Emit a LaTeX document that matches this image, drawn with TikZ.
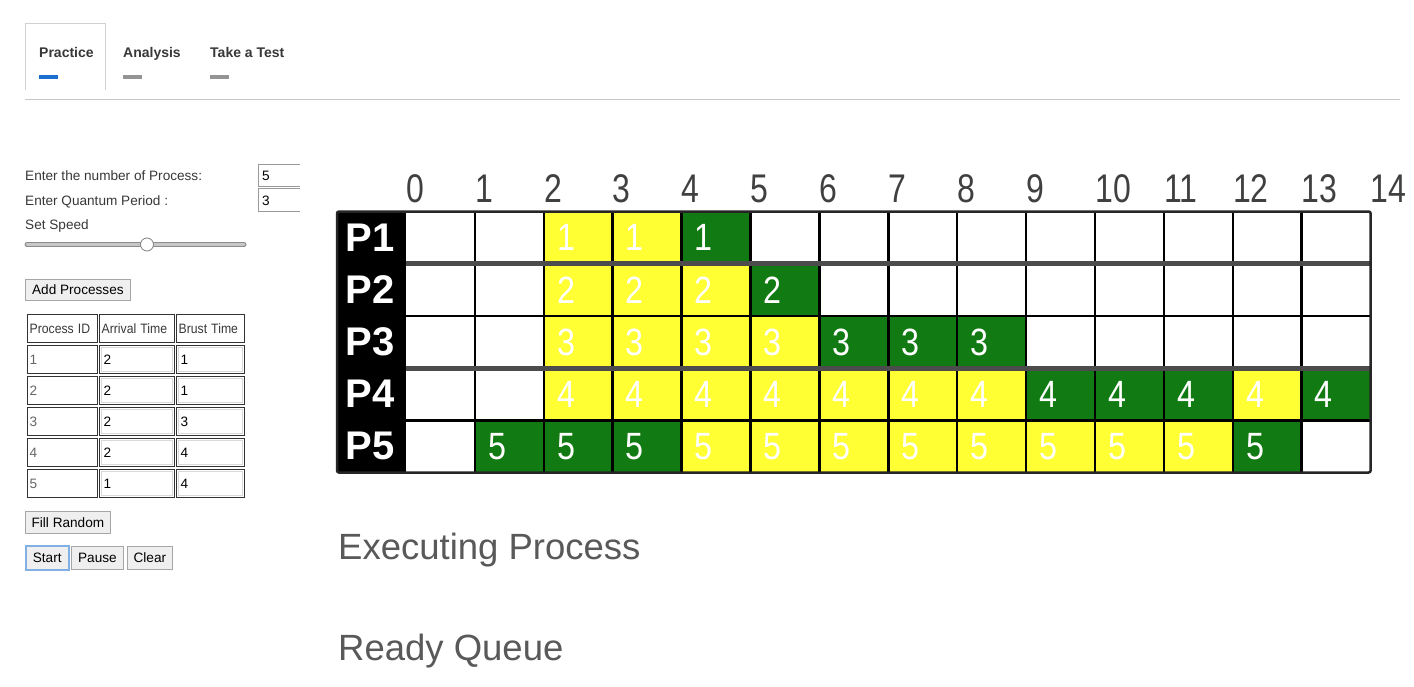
\documentclass[tikz,border=0pt]{standalone}
\usepackage{fontspec}
\usepackage{graphicx}
\setmainfont{Liberation Sans}
\definecolor{ctext}{HTML}{383838}
\definecolor{cbtn}{HTML}{EFEFEF}
\definecolor{cyellow}{HTML}{FFFF33}
\definecolor{cgreen}{HTML}{127A12}
\definecolor{cblue}{HTML}{1A6FD0}
\begin{document}
\begin{tikzpicture}[x=1pt,y=-1pt,
  lbl/.style={anchor=base west,inner sep=0,text=ctext,font=\fontsize{13.6}{15}\selectfont},
  tabtxt/.style={anchor=base west,inner sep=0,text=ctext,font=\fontsize{14}{16}\selectfont\bfseries},
  btnbox/.style={anchor=north west,draw=black!35,fill=cbtn,line width=.8pt,inner sep=0,text=black,font=\fontsize{13.6}{15}\selectfont},
  tcell/.style={anchor=north west,draw=black!80,line width=1.2pt,text width=#1,minimum height=28pt,inner xsep=2pt,inner ysep=0,align=left,text=black,font=\fontsize{13.6}{15}\selectfont},
  inbox/.style={draw=black!15,line width=1.5pt},
  slot/.style={anchor=north west,minimum height=52.2pt,inner xsep=13pt,inner ysep=0,text width=42.9pt,align=left,text=white,font=\fontsize{38}{40}\selectfont},
  ready/.style={slot,fill=cyellow},
  run/.style={slot,fill=cgreen},
  gline/.style={draw=black,line width=2.5pt},
  tick/.style={anchor=base west,inner sep=0,text=black!75,font=\fontsize{40}{42}\selectfont},
  plabel/.style={inner sep=0,text=white,font=\fontsize{40}{42}\selectfont\bfseries},
  big/.style={anchor=base west,inner sep=0,text=black!65,font=\fontsize{36.5}{40}\selectfont}]
\fill[white] (0,0) rectangle (1414,686);
\useasboundingbox (0,0) rectangle (1414,686);
\draw[black!18,line width=1pt] (25,90)--(25,23)--(105,23)--(105,90);
\draw[black!22,line width=1.2pt] (25,99.5)--(1400,99.5);
\node[tabtxt] (practice) at (39,57) {Practice};
\node[tabtxt] (analysis) at (123,57) {Analysis};
\node[tabtxt] (test) at (210,57) {Take a Test};
\fill[cblue] (39,75) rectangle (58,79);
\fill[black!42] (123,75) rectangle (142,79);
\fill[black!42] (210,75) rectangle (229,79);
\node[lbl] (nproc) at (25,180) {Enter the number of Process:};
\node[lbl] (quantum) at (25,205) {Enter Quantum Period :};
\node[lbl] (speed) at (25,229) {Set Speed};
\draw[black!40,line width=.8pt] (300,164)--(258,164)--(258,186)--(300,186);
\draw[black!40,line width=.8pt] (300,188)--(258,188)--(258,211)--(300,211);
\node[lbl,text=black] (nval) at (262,180) {5};
\node[lbl,text=black] (qval) at (262,205) {3};
\draw[black!45,line width=5pt,line cap=round] (27,244.5)--(244,244.5);
\draw[black!22,line width=3pt,line cap=round] (27,244.5)--(244,244.5);
\draw[black!50,fill=white,line width=.8pt] (147,244.5) circle (6.5);
\node[btnbox,minimum width=105pt,minimum height=21pt] (addbtn) at (25,279) {Add Processes};
\foreach \h/\x/\w [count=\k] in {Process ID/27/66pt,Arrival Time/99/71pt,Brust Time/176/64pt}
  \node[tcell=\w,text=ctext] (h\k) at (\x,314) {\scalebox{.9}[1]{\h}};
\foreach \r/\a/\b in {1/2/1,2/2/1,3/2/3,4/2/4,5/1/4}
{
  \node[tcell=66pt,text=black!60] (d\r-1) at (27,{345+31*(\r-1)}) {\r};
  \node[tcell=71pt,inner xsep=4pt,text width=67pt] (d\r-2) at (99,{345+31*(\r-1)}) {\a};
  \node[tcell=64pt,inner xsep=4pt,text width=60pt] (d\r-3) at (176,{345+31*(\r-1)}) {\b};
  \draw[inbox] ([shift={(2.5,2.5)}]d\r-2.north west) rectangle ([shift={(-2.5,-2.5)}]d\r-2.south east);
  \draw[inbox] ([shift={(2.5,2.5)}]d\r-3.north west) rectangle ([shift={(-2.5,-2.5)}]d\r-3.south east);
}
\node[btnbox,minimum width=85pt,minimum height=22pt] (fillbtn) at (25,511) {Fill Random};
\node[btnbox,draw=cblue!55,line width=1.5pt,minimum width=43pt,minimum height=24pt] (startbtn) at (25,545) {Start};
\node[btnbox,minimum width=52pt,minimum height=23pt] (pausebtn) at (71,546) {Pause};
\node[btnbox,minimum width=45pt,minimum height=23pt] (clearbtn) at (127,546) {Clear};
\fill[black] (337,211.5) rectangle (406,472.5);
\foreach \r/\a/\b/\k in {1/2/3/ready,1/4/4/run,2/2/4/ready,2/5/5/run,3/2/5/ready,3/6/8/run,4/2/8/ready,4/9/11/run,4/12/12/ready,4/13/13/run,5/1/3/run,5/4/11/ready,5/12/12/run}
  \foreach \c in {\a,...,\b}
    \node[\k] (g\r-\c) at ({406+68.9*\c},{211.5+52.2*(\r-1)}) {\scalebox{.85}[1]{\r}};
\foreach \c in {1,...,13}
  \draw[gline] ({406+68.9*\c},211.5)--({406+68.9*\c},472.5);
\foreach \j/\wd/\cl in {1/5pt/black!70,2/2.5pt/black,3/5pt/black!70,4/2.5pt/black}
  \draw[gline,line width=\wd,draw=\cl] (406,{211.5+52.2*\j})--(1370.6,{211.5+52.2*\j});
\draw[gline,draw=black!85,rounded corners=2pt] (337,211.5) rectangle (1370.6,472.5);
\foreach \r in {1,...,5}
  \node[plabel] (p\r) at (370,{237.6+52.2*(\r-1)}) {P\r};
\foreach \t in {0,...,14}
  \node[tick] (t\t) at ({406+68.9*\t},202) {\scalebox{.8}[1]{\t}};
\node[big] (exec) at (338,559) {Executing Process};
\node[big] (queue) at (338,660) {Ready Queue};
\end{tikzpicture}
\end{document}
